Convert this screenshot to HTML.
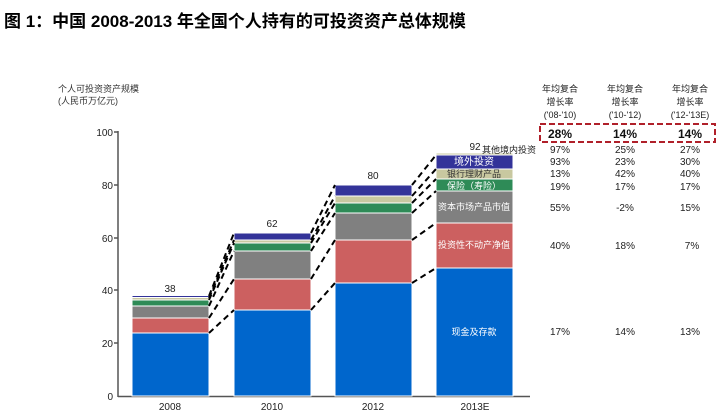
<!DOCTYPE html>
<html><head><meta charset="utf-8"><style>
html,body{margin:0;padding:0;background:#fff;width:718px;height:413px;overflow:hidden}
svg text{font-family:"Liberation Sans","Noto Sans CJK SC",sans-serif}
</style></head><body>
<svg width="718" height="413" viewBox="0 0 718 413" xmlns="http://www.w3.org/2000/svg">
<text x="4" y="27" font-size="17" font-weight="bold" fill="#000">图 1：中国 2008-2013 年全国个人持有的可投资资产总体规模</text>
<text x="58" y="92" font-size="9" fill="#333">个人可投资资产规模</text>
<text x="58" y="104" font-size="9" fill="#333">(人民币万亿元)</text>
<g stroke="#555" stroke-width="1.5">
<line x1="118" y1="131" x2="118" y2="397"/>
<line x1="118" y1="396.5" x2="530" y2="396.5"/>
<line x1="114" y1="132" x2="118" y2="132"/><line x1="114" y1="185" x2="118" y2="185"/>
<line x1="114" y1="238" x2="118" y2="238"/><line x1="114" y1="290" x2="118" y2="290"/>
<line x1="114" y1="343" x2="118" y2="343"/>
</g>
<g font-size="10" fill="#222" text-anchor="end">
<text x="113" y="136">100</text><text x="113" y="189">80</text><text x="113" y="242">60</text>
<text x="113" y="294">40</text><text x="113" y="347">20</text><text x="113" y="400">0</text>
</g>
<g font-size="10" fill="#222" text-anchor="middle">
<text x="170" y="410">2008</text><text x="272" y="410">2010</text><text x="373" y="410">2012</text><text x="475" y="410">2013E</text>
<text x="170" y="292">38</text><text x="272" y="227">62</text><text x="373" y="179">80</text><text x="475" y="150">92</text>
</g>
<g stroke="#fff" stroke-width="1">
<rect x="132" y="333" width="77" height="63" fill="#0066cc"/>
<rect x="132" y="318" width="77" height="15" fill="#cc6060"/>
<rect x="132" y="306" width="77" height="12" fill="#808080"/>
<rect x="132" y="300" width="77" height="6" fill="#2e8b57"/>
<rect x="132" y="297.5" width="77" height="2.5" fill="#c8c8a0"/>
<rect x="132" y="295.5" width="77" height="2" fill="#333399"/>
<rect x="234" y="310" width="77" height="86" fill="#0066cc"/>
<rect x="234" y="279" width="77" height="31" fill="#cc6060"/>
<rect x="234" y="251" width="77" height="28" fill="#808080"/>
<rect x="234" y="243" width="77" height="8" fill="#2e8b57"/>
<rect x="234" y="240" width="77" height="3" fill="#c8c8a0"/>
<rect x="234" y="233" width="77" height="7" fill="#333399"/>
<rect x="335" y="283" width="77" height="113" fill="#0066cc"/>
<rect x="335" y="240" width="77" height="43" fill="#cc6060"/>
<rect x="335" y="213" width="77" height="27" fill="#808080"/>
<rect x="335" y="203" width="77" height="10" fill="#2e8b57"/>
<rect x="335" y="196" width="77" height="7" fill="#c8c8a0"/>
<rect x="335" y="185" width="77" height="11" fill="#333399"/>
<rect x="436" y="268" width="77" height="128" fill="#0066cc"/>
<rect x="436" y="223" width="77" height="45" fill="#cc6060"/>
<rect x="436" y="191" width="77" height="32" fill="#808080"/>
<rect x="436" y="179" width="77" height="12" fill="#2e8b57"/>
<rect x="436" y="169" width="77" height="10" fill="#c8c8a0"/>
<rect x="436" y="155" width="77" height="14" fill="#333399"/>
<rect x="436" y="153" width="77" height="2" fill="#c8c8a0"/>
</g>
<g stroke="#000" stroke-width="2" stroke-dasharray="6,4" fill="none">
<line x1="209" y1="333" x2="234" y2="310"/><line x1="209" y1="318" x2="234" y2="279"/>
<line x1="209" y1="306" x2="234" y2="251"/><line x1="209" y1="300" x2="234" y2="243"/>
<line x1="209" y1="298" x2="234" y2="240"/><line x1="209" y1="296" x2="234" y2="233"/>
<line x1="311" y1="310" x2="335" y2="283"/><line x1="311" y1="279" x2="335" y2="240"/>
<line x1="311" y1="251" x2="335" y2="213"/><line x1="311" y1="243" x2="335" y2="203"/>
<line x1="311" y1="240" x2="335" y2="196"/><line x1="311" y1="233" x2="335" y2="185"/>
<line x1="412" y1="283" x2="436" y2="268"/><line x1="412" y1="240" x2="436" y2="223"/>
<line x1="412" y1="213" x2="436" y2="191"/><line x1="412" y1="203" x2="436" y2="179"/>
<line x1="412" y1="196" x2="436" y2="169"/><line x1="412" y1="185" x2="436" y2="155"/>
</g>
<g font-size="9" fill="#fff" text-anchor="middle">
<text x="474" y="165" font-size="10">境外投资</text>
<text x="474" y="177" fill="#333">银行理财产品</text>
<text x="474" y="189">保险（寿险）</text>
<text x="474" y="210">资本市场产品市值</text>
<text x="474" y="248">投资性不动产净值</text>
<text x="474" y="335">现金及存款</text>
</g>
<text x="482" y="153" font-size="9" fill="#222">其他境内投资</text>
<g font-size="9" fill="#222" text-anchor="middle">
<text x="560" y="92">年均复合</text><text x="625" y="92">年均复合</text><text x="690" y="92">年均复合</text>
<text x="560" y="105">增长率</text><text x="625" y="105">增长率</text><text x="690" y="105">增长率</text>
<text x="560" y="118">('08-'10)</text><text x="625" y="118">('10-'12)</text><text x="690" y="118">('12-'13E)</text>
</g>
<rect x="540" y="124" width="175" height="18" fill="none" stroke="#b0202a" stroke-width="2" stroke-dasharray="6,3"/>
<g font-size="12" font-weight="bold" fill="#111" text-anchor="middle">
<text x="560" y="138">28%</text><text x="625" y="138">14%</text><text x="690" y="138">14%</text>
</g>
<g font-size="10" fill="#222" text-anchor="middle">
<text x="560" y="153">97%</text><text x="625" y="153">25%</text><text x="690" y="153">27%</text>
<text x="560" y="165">93%</text><text x="625" y="165">23%</text><text x="690" y="165">30%</text>
<text x="560" y="177">13%</text><text x="625" y="177">42%</text><text x="690" y="177">40%</text>
<text x="560" y="190">19%</text><text x="625" y="190">17%</text><text x="690" y="190">17%</text>
<text x="560" y="211">55%</text><text x="625" y="211">-2%</text><text x="690" y="211">15%</text>
<text x="560" y="249">40%</text><text x="625" y="249">18%</text><text x="692" y="249">7%</text>
<text x="560" y="335">17%</text><text x="625" y="335">14%</text><text x="690" y="335">13%</text>
</g>
</svg>
</body></html>
